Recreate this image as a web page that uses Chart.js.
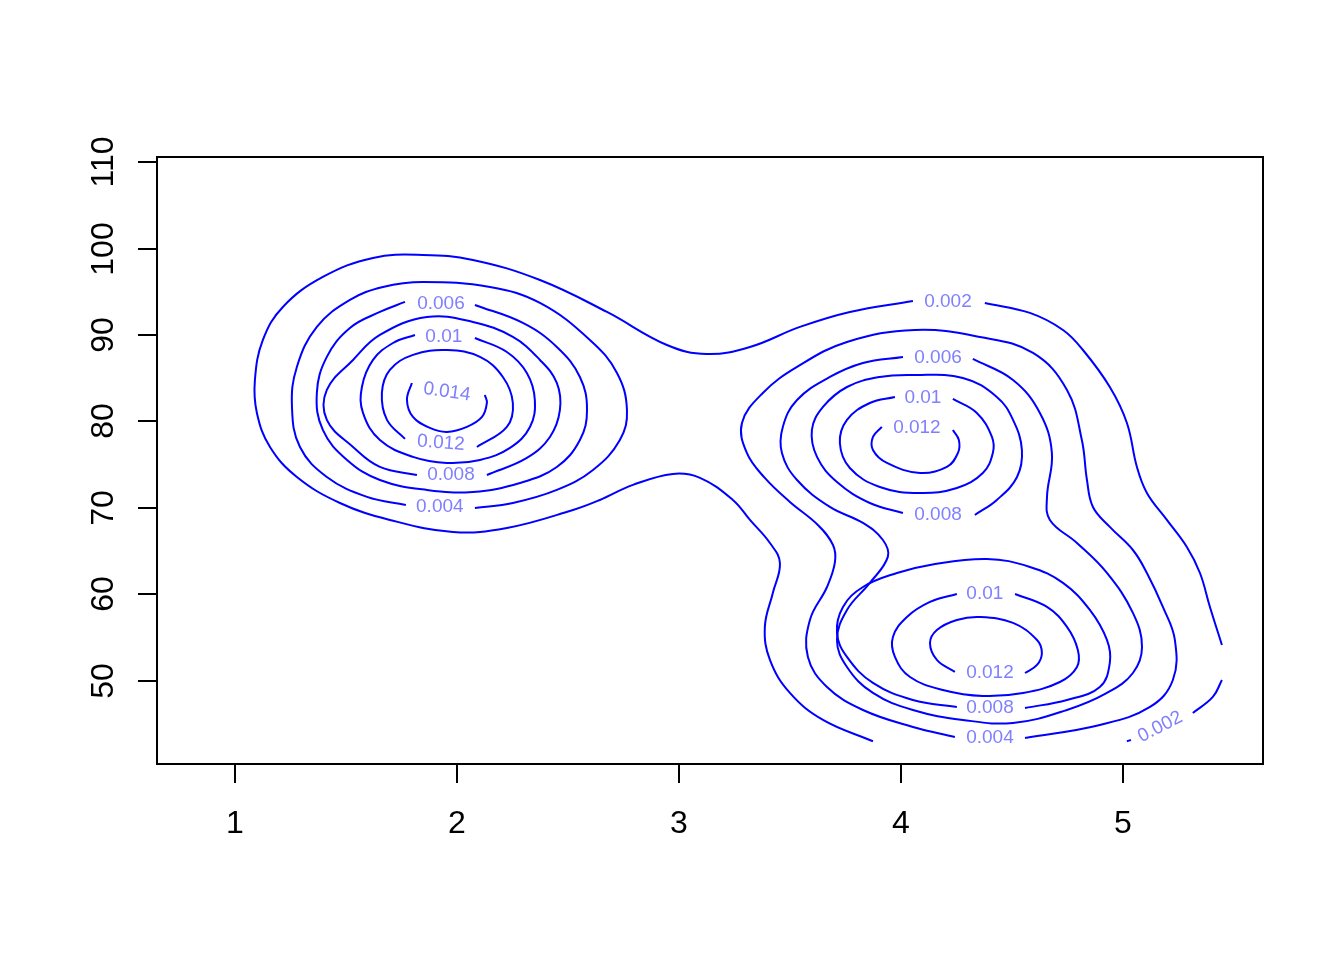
<!DOCTYPE html>
<html>
<head>
<meta charset="utf-8">
<title>Density contours</title>
<script src="https://cdn.jsdelivr.net/npm/chart.js@4/dist/chart.umd.min.js"></script>
<style>
  html, body { margin: 0; padding: 0; background: #ffffff; }
  #chart { display: block; }
</style>
</head>
<body>
<canvas id="chart" width="1344" height="960"></canvas>
<script>
// Axis ticks and limits
const xTicks = [1, 2, 3, 4, 5];
const yTicks = [50, 60, 70, 80, 90, 100, 110];
const xRange = [0.649, 5.631];
const yRange = [40.37, 110.6];

// Contour levels: each level is a list of line pieces, each piece a list of [x, y]
const lev002 = [
    [[3.874, 43.0], [3.649, 45.47], [3.500, 48.59], [3.410, 52.41], [3.387, 56.23], [3.423, 60.16], [3.455, 63.63],
     [3.410, 65.94], [3.320, 68.61], [3.243, 70.92], [3.095, 73.47], [2.973, 73.93], [2.793, 72.66], [2.644, 70.92],
     [2.523, 69.76], [2.225, 67.68], [1.982, 67.22], [1.698, 68.61], [1.473, 70.57], [1.279, 73.58], [1.158, 77.05],
     [1.099, 80.99], [1.090, 84.80], [1.126, 89.43], [1.216, 93.25], [1.396, 96.72], [1.622, 98.92], [1.847, 99.27],
     [2.072, 98.69], [2.374, 96.37], [2.676, 92.67], [2.946, 88.85], [3.126, 87.81], [3.320, 88.62], [3.545, 90.94],
     [3.770, 92.67], [4.054, 93.94]],
    [[4.378, 93.71], [4.581, 92.56], [4.730, 90.59], [4.820, 88.27], [4.941, 83.99], [5.018, 79.83], [5.063, 74.74],
     [5.108, 71.73], [5.198, 68.61], [5.288, 65.48], [5.347, 62.47], [5.392, 58.54], [5.446, 54.14]],
    [[5.446, 50.09], [5.405, 48.13], [5.315, 46.28]],
    [[5.018, 43.0], [5.036, 43.15]]
];

const lev004 = [
    [[2.081, 69.99], [2.252, 70.57], [2.450, 72.08], [2.613, 74.39], [2.734, 77.86], [2.766, 81.33], [2.721, 85.61],
     [2.599, 89.43], [2.374, 93.71], [2.149, 95.56], [1.847, 96.14], [1.667, 95.56], [1.518, 94.06], [1.369, 90.94],
     [1.279, 86.31], [1.257, 81.68], [1.293, 77.05], [1.414, 73.58], [1.595, 71.27], [1.770, 70.34]],
    [[4.559, 43.38], [4.896, 44.89], [5.122, 46.97], [5.225, 50.09], [5.234, 54.72], [5.180, 58.54], [5.108, 62.47],
     [5.045, 65.13], [4.941, 67.80], [4.865, 70.11], [4.838, 73.23], [4.815, 77.86], [4.748, 83.65], [4.595, 87.93],
     [4.356, 89.78], [4.063, 90.59], [3.757, 89.20], [3.532, 86.31], [3.378, 83.30], [3.284, 79.83], [3.306, 76.36],
     [3.387, 73.47], [3.500, 70.69], [3.626, 68.03], [3.694, 65.71], [3.703, 63.75], [3.667, 60.85], [3.590, 57.04],
     [3.581, 52.76], [3.667, 49.28], [3.829, 46.62], [4.054, 44.66], [4.243, 43.50]]
];

const lev006 = [
    [[2.081, 93.48], [2.297, 91.40], [2.450, 88.62], [2.554, 85.15], [2.586, 81.33], [2.554, 77.86], [2.450, 74.74],
     [2.284, 72.89], [2.072, 71.85], [1.865, 72.08], [1.653, 73.23], [1.505, 75.55], [1.396, 79.02], [1.369, 83.30],
     [1.414, 87.47], [1.518, 90.82], [1.653, 92.67], [1.766, 93.83]],
    [[4.324, 87.23], [4.505, 84.80], [4.626, 80.99], [4.680, 76.36], [4.658, 71.27], [4.671, 68.61], [4.793, 65.94],
     [4.928, 62.47], [5.045, 57.85], [5.086, 53.91], [5.045, 50.90], [4.928, 48.59], [4.748, 46.62], [4.505, 45.12],
     [4.279, 45.47], [4.054, 46.62], [3.874, 48.59], [3.757, 51.60], [3.712, 54.72], [3.757, 58.19], [3.860, 61.32],
     [3.941, 64.33], [3.919, 66.29], [3.829, 68.26], [3.680, 70.11], [3.532, 73.23], [3.464, 76.36], [3.468, 79.37],
     [3.532, 82.49], [3.680, 85.15], [3.829, 86.77], [4.009, 87.47]]
];

const lev008 = [
    [[2.135, 73.81], [2.315, 75.78], [2.419, 78.21], [2.464, 81.33], [2.450, 84.46], [2.374, 87.12], [2.252, 89.78],
     [2.072, 91.51], [1.865, 92.09], [1.653, 90.01], [1.532, 87.12], [1.414, 83.65], [1.414, 80.18], [1.532, 77.05],
     [1.653, 74.74], [1.820, 73.81]],
    [[4.333, 69.18], [4.432, 70.92], [4.523, 73.58], [4.545, 76.70], [4.505, 80.18], [4.432, 82.84], [4.279, 85.04],
     [4.054, 85.38], [3.905, 85.15], [3.757, 83.99], [3.649, 81.68], [3.599, 79.02], [3.622, 75.90], [3.712, 73.00],
     [3.860, 70.57], [4.009, 69.42]],
    [[4.559, 46.85], [4.748, 47.78], [4.896, 49.28], [4.941, 52.06], [4.928, 54.72], [4.851, 58.19], [4.730, 61.32],
     [4.581, 63.17], [4.387, 64.09], [4.131, 63.40], [3.982, 62.47], [3.829, 60.85], [3.739, 58.54], [3.712, 55.53],
     [3.757, 52.76], [3.874, 49.75], [4.054, 47.78], [4.252, 46.97]]
];

const lev010 = [
    [[2.081, 89.66], [2.225, 88.04], [2.315, 85.61], [2.351, 82.49], [2.329, 79.37], [2.239, 76.94], [2.104, 75.55],
     [1.955, 75.20], [1.802, 75.90], [1.653, 77.86], [1.577, 80.99], [1.572, 83.99], [1.622, 87.12], [1.712, 89.08],
     [1.811, 90.01]],
    [[4.234, 82.61], [4.342, 80.99], [4.410, 78.21], [4.414, 76.36], [4.369, 74.04], [4.252, 72.31], [4.086, 71.73],
     [3.905, 72.42], [3.770, 74.62], [3.725, 77.51], [3.757, 80.18], [3.860, 82.14], [3.973, 82.84]],
    [[4.514, 60.04], [4.658, 58.54], [4.748, 56.23], [4.797, 53.56], [4.793, 51.60], [4.716, 49.86], [4.550, 48.59],
     [4.369, 48.24], [4.189, 48.94], [4.041, 50.44], [3.973, 52.76], [3.964, 55.07], [4.027, 57.38], [4.131, 59.12],
     [4.252, 60.04]]
];

const lev012 = [
    [[2.090, 77.05], [2.225, 79.37], [2.252, 82.14], [2.207, 85.15], [2.104, 87.47], [1.955, 88.27], [1.802, 87.70],
     [1.698, 85.96], [1.662, 83.30], [1.685, 80.18], [1.766, 77.98]],
    [[3.914, 79.37], [3.874, 78.21], [3.874, 76.70], [3.937, 75.20], [4.086, 74.04], [4.207, 74.74], [4.257, 76.36],
     [4.261, 77.86], [4.234, 79.02]],
    [[4.559, 50.90], [4.613, 51.83], [4.635, 53.22], [4.613, 54.72], [4.505, 56.69], [4.356, 57.38], [4.252, 57.04],
     [4.162, 55.88], [4.131, 54.37], [4.162, 52.41], [4.243, 51.02]]
];

const lev014 = [
    [[1.797, 84.46], [1.775, 82.49], [1.802, 80.52], [1.878, 79.25], [1.955, 78.79], [2.045, 79.37], [2.113, 80.52],
     [2.135, 82.14], [2.126, 83.07]]
];

// Contour labels: x, y, text, tilt in degrees
const labelSpots = [
    [1.928, 93.60, '0.006', 0],
    [1.941, 89.78, '0.01', 0],
    [1.955, 83.42, '0.014', 8],
    [1.928, 77.51, '0.012', 4],
    [1.973, 73.81, '0.008', 0],
    [1.923, 70.11, '0.004', 0],
    [4.212, 93.83, '0.002', 0],
    [4.167, 87.35, '0.006', 0],
    [4.099, 82.72, '0.01', 0],
    [4.072, 79.25, '0.012', 0],
    [4.167, 69.18, '0.008', 0],
    [4.378, 60.04, '0.01', 0],
    [4.401, 50.90, '0.012', 0],
    [4.401, 46.85, '0.008', 0],
    [4.401, 43.38, '0.004', 0],
    [5.168, 44.66, '0.002', -27]
];

(function() {
    'use strict';

    const levels = [lev002, lev004, lev006, lev008, lev010, lev012, lev014];
    const datasets = [];
    levels.forEach(level => {
        level.forEach(piece => {
            datasets.push({
                data: piece.map(p => ({ x: p[0], y: p[1] })),
                showLine: true,
                borderColor: '#0000ff',
                borderWidth: 2,
                pointRadius: 0,
                tension: 0.4,
                fill: false
            });
        });
    });

    const font = '"Liberation Sans", Arial, Helvetica, sans-serif';

    // Draws white page, box, R-style axes and contour labels
    const framePlugin = {
        id: 'frame',
        beforeDraw(chart) {
            const ctx = chart.ctx;
            ctx.save();
            ctx.fillStyle = '#ffffff';
            ctx.fillRect(0, 0, chart.width, chart.height);
            ctx.restore();
        },
        afterDatasetsDraw(chart) {
            const { ctx, chartArea: a, scales } = chart;
            const sx = scales.x;
            const sy = scales.y;

            // contour labels
            ctx.save();
            ctx.font = '19px ' + font;
            ctx.fillStyle = '#8080ff';
            ctx.textAlign = 'center';
            ctx.textBaseline = 'middle';
            labelSpots.forEach(([lx, ly, text, tilt]) => {
                ctx.save();
                ctx.translate(sx.getPixelForValue(lx), sy.getPixelForValue(ly));
                ctx.rotate(tilt * Math.PI / 180);
                ctx.fillText(text, 0, 0);
                ctx.restore();
            });
            ctx.restore();

            // box
            ctx.save();
            ctx.strokeStyle = '#000000';
            ctx.lineWidth = 2;
            ctx.strokeRect(a.left, a.top, a.right - a.left, a.bottom - a.top);

            // x axis ticks and labels
            ctx.font = '32px ' + font;
            ctx.fillStyle = '#000000';
            ctx.textAlign = 'center';
            ctx.textBaseline = 'alphabetic';
            xTicks.forEach(v => {
                const px = Math.round(sx.getPixelForValue(v));
                ctx.beginPath();
                ctx.moveTo(px, a.bottom);
                ctx.lineTo(px, a.bottom + 19);
                ctx.stroke();
                ctx.fillText(String(v), px, a.bottom + 69);
            });

            // y axis ticks and rotated labels
            yTicks.forEach(v => {
                const py = Math.round(sy.getPixelForValue(v));
                ctx.beginPath();
                ctx.moveTo(a.left - 19, py);
                ctx.lineTo(a.left, py);
                ctx.stroke();
                ctx.save();
                ctx.translate(a.left - 44.5, py);
                ctx.rotate(-Math.PI / 2);
                ctx.fillText(String(v), 0, 0);
                ctx.restore();
            });
            ctx.restore();
        }
    };

    new Chart(document.getElementById('chart').getContext('2d'), {
        type: 'scatter',
        data: { datasets: datasets },
        options: {
            responsive: false,
            animation: false,
            events: [],
            layout: {
                padding: { left: 157, top: 157, right: 81, bottom: 196 }
            },
            plugins: {
                legend: { display: false },
                tooltip: { enabled: false }
            },
            scales: {
                x: { type: 'linear', min: xRange[0], max: xRange[1], display: false },
                y: { type: 'linear', min: yRange[0], max: yRange[1], display: false }
            }
        },
        plugins: [framePlugin]
    });
})();
</script>
</body>
</html>
